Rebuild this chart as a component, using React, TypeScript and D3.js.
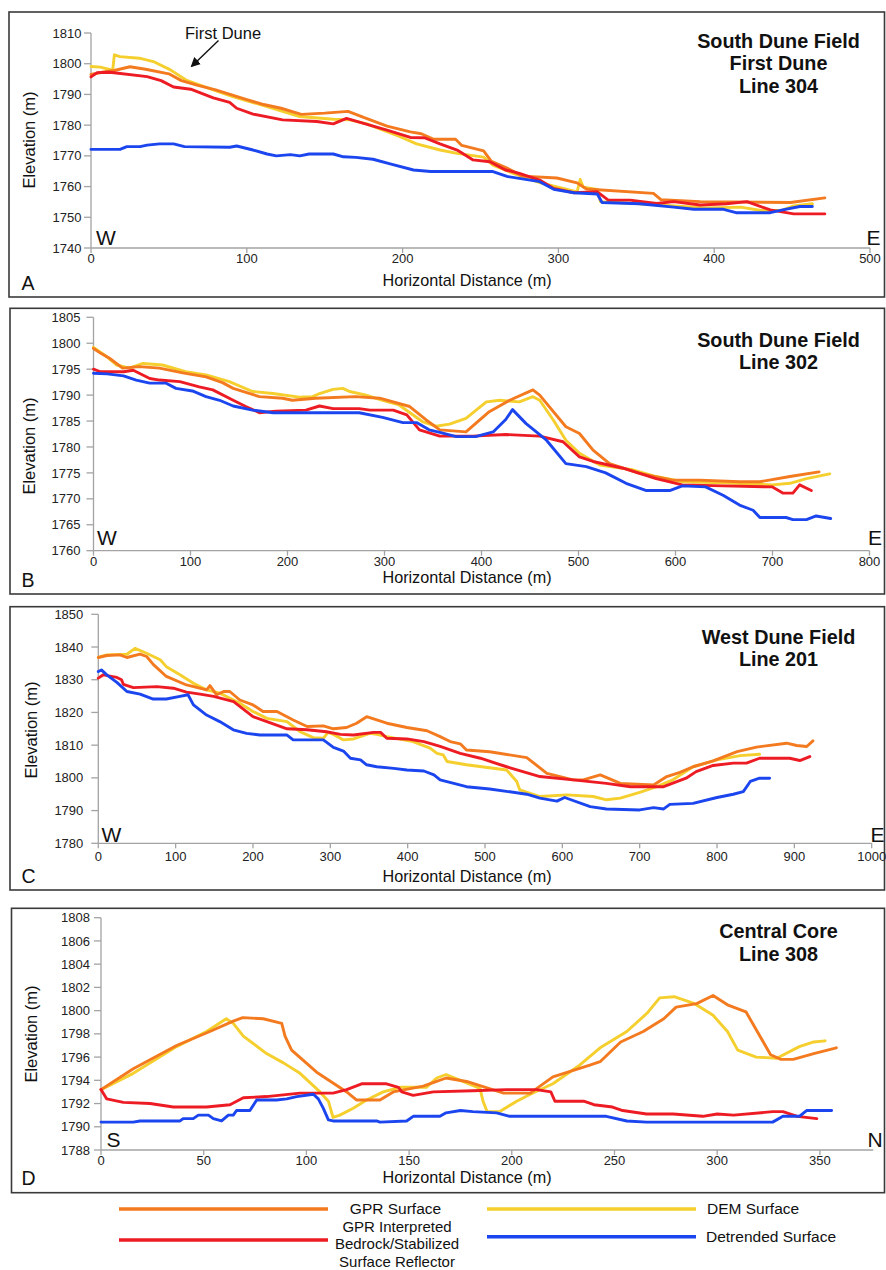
import React from 'react';
import * as d3 from 'd3';

type Pt = [number, number];

// ---------- Series metadata ----------
const seriesKeys = ['dem', 'gpr', 'bedrock', 'detrended'];
const seriesColors: Record<string, string> = {
  gpr: '#F37A1F',
  dem: '#F5CF2D',
  bedrock: '#ED1C24',
  detrended: '#1B45EE',
};

// ---------- Panel A: South Dune Field, First Dune, Line 304 ----------
const line304Gpr: Pt[] = [[0,1796.5],[8,1797.3],[15,1797.8],[25,1799],[35,1798.2],[50,1796.7],[58,1794.5],[68,1793],[80,1791.5],[100,1788.3],[110,1786.8],[122,1785.5],[135,1783.5],[150,1783.9],[165,1784.5],[175,1782.5],[190,1779.7],[205,1777.8],[212,1777.2],[220,1775.4],[234,1775.4],[238,1773.4],[252,1771.6],[257,1768.2],[267,1766],[277,1763.4],[299,1762.8],[312,1761.2],[318,1759.2],[361,1757.8],[366,1755.7],[391,1755.1],[449,1754.8],[471,1756.3]];
const line304Dem: Pt[] = [[0,1799.1],[6,1798.9],[13,1798],[14,1798.2],[15,1802.9],[18.6,1802.3],[31,1801.8],[40,1800.7],[51,1798],[61,1794.7],[78.5,1791.5],[91,1789.3],[113,1786],[134,1782.8],[155.5,1781.9],[166,1781.7],[177,1780.4],[198,1776.3],[209,1773.9],[224,1771.9],[235,1770.8],[252,1769.6],[258,1767],[271,1764.3],[288,1761.3],[303,1759.4],[312,1758.3],[314,1762.3],[316,1759.8],[325,1759.1],[327,1755.1],[352,1754.4],[395,1753],[417,1753.3],[430,1752.2],[443,1752.2],[451,1753.7],[463,1754.4]];
const line304Bedrock: Pt[] = [[0,1795.7],[4,1797.1],[12,1797.2],[36,1795.8],[45,1794.5],[53,1792.4],[64,1791.7],[78.5,1788.9],[89,1787.4],[93.5,1785.5],[104,1783.6],[123,1781.7],[145,1781.2],[155.5,1780.4],[164,1782.2],[175,1780.6],[190,1778.4],[205,1776],[214,1775.9],[224,1773.9],[235,1771.9],[245,1768.7],[256,1768.1],[266,1765.4],[275,1764.3],[288,1762.1],[297,1759.4],[310,1758],[325,1758.3],[332,1755.6],[346,1755.6],[363,1754.5],[374,1755.1],[391,1754],[408,1754.4],[421,1755.1],[436,1752.4],[451,1751.1],[471,1751.1]];
const line304Detrended: Pt[] = [[0,1772.1],[18.6,1772.1],[23,1773],[31.5,1773],[36,1773.5],[44,1773.9],[53,1773.9],[60,1773],[89,1772.8],[93.5,1773.2],[104,1771.9],[113,1770.6],[119,1770],[128,1770.4],[134,1770],[140,1770.6],[155.5,1770.6],[162,1769.7],[170,1769.5],[181,1768.9],[192,1767.4],[207,1765.4],[218,1764.9],[258,1764.9],[267,1763.3],[288,1761.6],[297,1759.1],[310,1758],[325,1757.6],[328,1754.8],[352,1754.4],[374,1753.3],[387,1752.6],[406,1752.6],[414,1751.5],[436,1751.5],[444,1752.4],[455,1753.5],[463,1753.5]];
const line304Title = ['South Dune Field', 'First Dune', 'Line 304'];
const line304XTicks = [0, 100, 200, 300, 400, 500];
const line304YTicks = [1740, 1750, 1760, 1770, 1780, 1790, 1800, 1810];

// ---------- Panel B: South Dune Field, Line 302 ----------
const line302Gpr: Pt[] = [[0,1799],[8,1798],[16.5,1797.1],[30,1795.2],[47,1795.5],[68,1795.2],[92,1794.3],[116,1793.5],[133,1792.4],[144,1791.3],[171,1789.7],[195,1789.4],[205,1789],[229,1789.4],[270,1789.7],[295,1789.4],[326,1787.8],[343,1785.2],[357,1783.3],[384,1782.9],[408,1786.8],[429,1789],[453,1791],[460,1790],[487,1783.9],[501,1782.6],[515,1779.4],[532,1776.8],[563,1774.9],[597,1773.6],[625,1773.6],[666,1773.3],[687,1773.3],[718,1774.3],[748,1775.2]];
const line302Dem: Pt[] = [[0,1799.2],[13.7,1797.4],[24,1795.8],[37,1795.2],[51,1796.1],[71,1795.8],[95,1794.5],[116,1793.9],[140,1792.6],[164,1790.7],[185,1790.3],[212,1789.6],[226,1789.7],[233,1790.3],[247,1791.1],[257,1791.3],[264,1790.7],[281,1790],[298,1789],[315,1788.1],[339,1784.9],[353,1784],[367,1784.4],[384,1785.5],[405,1788.7],[419,1789],[439,1788.7],[453,1789.7],[460,1789],[474,1785.2],[487,1781.3],[501,1778.8],[522,1776.5],[556,1775.6],[580,1774.3],[607,1773.3],[649,1773.1],[700,1772.7],[718,1773],[735,1773.9],[759,1774.8]];
const line302Bedrock: Pt[] = [[0,1795],[7,1794.5],[31,1794.5],[41,1794.8],[58,1793.2],[68,1792.9],[89,1792.6],[109,1791.6],[123,1791],[144,1789],[157,1787.8],[171,1786.6],[188,1786.9],[219,1787.1],[233,1787.9],[247,1787.4],[274,1787.4],[285,1787.1],[309,1787.1],[323,1786.2],[336,1783.3],[357,1782.1],[391,1782.1],[425,1782.4],[460,1782.1],[484,1781],[501,1778.1],[515,1777.2],[546,1775.9],[580,1773.9],[607,1772.7],[649,1772.5],[700,1772.3],[711,1771.1],[721,1771.1],[728,1772.7],[740,1771.6]];
const line302Detrended: Pt[] = [[0,1794.2],[14,1794.1],[31,1793.7],[44,1792.9],[58,1792.3],[75,1792.3],[85,1791.3],[102,1790.8],[116,1789.7],[130,1789],[144,1787.9],[164,1787.1],[185,1786.6],[274,1786.6],[298,1785.7],[319,1784.7],[333,1784.7],[346,1783.3],[357,1782.8],[374,1782],[394,1782],[412,1782.9],[425,1785.3],[432,1787.2],[446,1784.5],[467,1781.3],[487,1776.8],[508,1776.2],[528,1775],[549,1773],[570,1771.6],[594,1771.6],[607,1772.5],[631,1772.3],[649,1770.7],[666,1768.8],[680,1767.8],[687,1766.4],[714,1766.4],[721,1766],[735,1766],[745,1766.7],[760,1766.2]];
const line302Title = ['South Dune Field', 'Line 302'];
const line302XTicks = [0, 100, 200, 300, 400, 500, 600, 700, 800];
const line302YTicks = [1760, 1765, 1770, 1775, 1780, 1785, 1790, 1795, 1800, 1805];

// ---------- Panel C: West Dune Field, Line 201 ----------
const line201Gpr: Pt[] = [[0,1836.8],[11,1837.4],[28,1837.6],[37,1836.8],[54,1837.8],[62.5,1837.1],[71,1834.7],[88,1831],[114,1828.4],[140,1826.9],[144.4,1828.2],[153,1825.4],[162,1826.4],[170,1826.4],[183,1823.8],[200,1822.3],[213,1820.3],[231,1820.3],[252,1817.7],[270,1815.7],[291,1815.9],[304,1815],[321,1815.4],[334,1816.7],[347,1818.7],[360,1817.7],[373,1816.7],[399,1815.4],[425,1814.4],[442,1812.6],[455,1811.1],[468,1810.4],[476,1808.5],[506,1808],[554,1806.2],[580,1801.4],[614,1799.4],[627,1799.4],[649,1800.9],[675,1798.3],[718,1797.8],[735,1800.4],[752,1801.7],[769,1803.4],[795,1805.2],[826,1808],[851,1809.4],[890,1810.6],[903,1809.9],[916,1809.6],[924,1811.3]];
const line201Dem: Pt[] = [[0,1836.8],[11,1837.6],[37,1837.8],[47.5,1839.6],[62.5,1838.1],[80,1836.1],[88,1834],[105.6,1831.5],[123,1828.9],[140,1826.9],[157,1825.9],[183,1822.8],[200,1820.3],[218,1818.2],[244,1817.2],[261,1814.1],[278,1812.3],[291,1812.1],[297,1813.9],[304,1813.3],[317,1811.6],[330,1811.9],[351,1813.6],[360,1813.3],[373,1812.6],[407,1811.1],[429,1809.1],[438,1807.5],[446,1807],[451,1805],[476,1804],[528,1802.4],[541,1798.9],[545,1796.3],[571,1794.3],[606,1794.8],[640,1794.3],[657,1793.3],[675,1793.8],[700,1795.6],[722,1797.3],[743,1799.4],[769,1803.4],[800,1805.5],[830,1806.8],[855,1807.2]];
const line201Bedrock: Pt[] = [[0,1830.5],[6.5,1831.5],[24,1830.7],[30,1830],[32.4,1828.6],[45.4,1827.6],[75.6,1827.9],[97,1827.4],[114,1826.2],[131.6,1825.6],[149,1824.9],[175,1823.3],[200,1818.7],[218,1817.2],[244,1815],[270,1814.7],[295,1814.1],[313,1813.3],[330,1813.1],[356,1813.9],[365,1813.9],[373,1812.1],[399,1811.9],[421,1811.1],[442,1809.6],[468,1807.5],[494,1806],[528,1803.4],[571,1800.4],[614,1799.4],[657,1798.3],[688,1797.3],[731,1797.3],[760,1799.9],[773,1801.9],[795,1803.8],[821,1804.5],[838,1804.5],[855,1806],[894,1806],[907,1805.3],[920,1806.5]];
const line201Detrended: Pt[] = [[0,1832.5],[4,1833],[11,1831.5],[24,1829.2],[37,1826.4],[54,1825.6],[71,1824.1],[88,1824.1],[105.6,1824.9],[116,1825.4],[123,1822.3],[140,1819.2],[157,1817.2],[174.5,1814.7],[191.7,1813.6],[209,1813.1],[244,1813.1],[252,1811.6],[291,1811.6],[304,1809.3],[317,1808.2],[326,1806],[339,1805.5],[347,1804],[360,1803.4],[382,1802.9],[399,1802.4],[421,1802.1],[434,1800.9],[442,1799.4],[476,1797.3],[506,1796.6],[554,1795],[571,1793.8],[593,1792.9],[603,1794],[636,1791.2],[657,1790.5],[700,1790.2],[718,1790.9],[731,1790.5],[739,1791.9],[769,1792.2],[800,1794],[821,1795],[834,1795.8],[843,1798.9],[855,1799.9],[868,1799.9]];
const line201Title = ['West Dune Field', 'Line 201'];
const line201XTicks = [0, 100, 200, 300, 400, 500, 600, 700, 800, 900, 1000];
const line201YTicks = [1780, 1790, 1800, 1810, 1820, 1830, 1840, 1850];

// ---------- Panel D: Central Core, Line 308 ----------
const line308Gpr: Pt[] = [[0,1793.2],[15.7,1795],[36.8,1797],[53,1798.2],[64.4,1799.1],[69,1799.4],[79,1799.3],[88,1798.9],[89.6,1797.8],[92.8,1796.6],[105,1794.7],[119.6,1793],[124.5,1792.3],[135.8,1792.3],[142.3,1793],[156.9,1793.5],[163.4,1793.9],[168,1794.2],[178,1793.9],[196,1792.9],[209,1792.9],[220,1794.3],[238,1795.3],[243,1795.6],[253,1797.3],[264,1798.2],[274,1799.3],[280,1800.3],[290,1800.6],[298,1801.3],[305,1800.5],[314,1799.9],[326,1796.2],[331,1795.8],[337,1795.8],[347,1796.3],[358,1796.8]];
const line308Dem: Pt[] = [[0,1793.2],[15.7,1794.6],[36.8,1796.9],[51.4,1798.2],[61,1799.3],[64.4,1798.9],[69.3,1797.8],[80.6,1796.3],[88.8,1795.5],[96.9,1794.6],[106.6,1793],[110.7,1792.2],[113,1790.8],[116.3,1791],[122.8,1791.6],[129.3,1792.3],[137.4,1793],[145.5,1793.4],[158.5,1793.4],[163.4,1794.2],[168,1794.5],[175,1794],[184.5,1793.3],[186,1792.2],[188,1791.3],[194,1791.3],[202.4,1792.2],[209,1792.8],[220,1793.7],[233,1795.3],[243,1796.8],[256,1798.2],[266,1799.8],[272,1801.1],[279,1801.2],[289,1800.6],[298,1799.6],[305,1798.2],[310,1796.6],[319,1796],[329,1795.9],[340,1796.9],[347,1797.3],[352.5,1797.4]];
const line308Bedrock: Pt[] = [[0,1793.2],[2.8,1792.4],[10.9,1792.1],[23.9,1792],[35.2,1791.7],[51.4,1791.7],[62.8,1791.9],[69.3,1792.5],[80.6,1792.6],[96.9,1792.9],[113,1792.9],[119.6,1793.2],[126.9,1793.7],[139,1793.7],[144.8,1793.4],[146.4,1793],[152,1792.7],[161.8,1793],[181,1793.1],[197.5,1793.2],[212,1793.2],[219,1793],[221,1792.2],[235,1792.2],[240,1791.9],[249,1791.7],[254,1791.4],[265.6,1791.1],[278.6,1791.1],[293,1790.9],[300,1791.1],[308,1791],[327,1791.3],[332,1791.3],[339,1790.9],[348.5,1790.7]];
const line308Detrended: Pt[] = [[0,1790.4],[15.7,1790.4],[19,1790.5],[38.5,1790.5],[40,1790.7],[44.9,1790.7],[47.4,1791],[52.3,1791],[54.7,1790.7],[58.7,1790.5],[62,1791],[64.4,1791],[66,1791.4],[72.5,1791.4],[75.8,1792.3],[85.5,1792.3],[90.4,1792.4],[95.3,1792.6],[103.4,1792.8],[105.8,1792.4],[108.2,1791.6],[110.7,1790.6],[113,1790.5],[134.2,1790.5],[135.8,1790.4],[148.8,1790.5],[152,1790.9],[165,1790.9],[168,1791.2],[175,1791.4],[181,1791.3],[192.6,1791.2],[199,1790.9],[246,1790.9],[256,1790.5],[265.6,1790.4],[327,1790.4],[332,1790.9],[340,1790.9],[343.5,1791.4],[355.7,1791.4]];
const line308Title = ['Central Core', 'Line 308'];
const line308XTicks = [0, 50, 100, 150, 200, 250, 300, 350];
const line308YTicks = [1788, 1790, 1792, 1794, 1796, 1798, 1800, 1802, 1804, 1806, 1808];

// ---------- Legend ----------
const legendGpr = ['GPR Surface'];
const legendDem = ['DEM Surface'];
const legendBedrock = ['GPR Interpreted', 'Bedrock/Stabilized', 'Surface Reflector'];
const legendDetrended = ['Detrended Surface'];

const FONT = "'Liberation Sans', Arial, Helvetica, sans-serif";
const AXIS_GREY = '#a3a3a3';

interface PanelLayout {
  letter: string;
  box: [number, number, number, number];
  xDomain: [number, number];
  xRange: [number, number];
  yDomain: [number, number];
  yRange: [number, number];
  xTicks: number[];
  yTicks: number[];
  xTickOffset: number;
  yLabelGap: number;
  xTitleY: number;
  yTitleX: number;
  yTitleY: number;
  letterY: number;
  dirs: [string, number, string, number, number];
  title: string[];
  titleY: number[];
  series: Record<string, Pt[]>;
}

const panels: PanelLayout[] = [
  {
    letter: 'A', box: [9, 12, 875.5, 285],
    xDomain: [0, 500], xRange: [91, 870], yDomain: [1740, 1810], yRange: [248, 33],
    xTicks: line304XTicks, yTicks: line304YTicks, xTickOffset: 15.3, yLabelGap: 9.5,
    xTitleY: 286, yTitleX: 35, yTitleY: 140, letterY: 290,
    dirs: ['W', 96, 'E', 866.5, 245],
    title: line304Title, titleY: [47.7, 70.2, 92.7],
    series: { gpr: line304Gpr, dem: line304Dem, bedrock: line304Bedrock, detrended: line304Detrended },
  },
  {
    letter: 'B', box: [10, 308.3, 874.5, 285.7],
    xDomain: [0, 800], xRange: [93.5, 869.5], yDomain: [1760, 1805], yRange: [550.7, 317.3],
    xTicks: line302XTicks, yTicks: line302YTicks, xTickOffset: 15, yLabelGap: 13,
    xTitleY: 583, yTitleX: 35, yTitleY: 446, letterY: 586.7,
    dirs: ['W', 97, 'E', 868, 545],
    title: line302Title, titleY: [346.7, 369.3],
    series: { gpr: line302Gpr, dem: line302Dem, bedrock: line302Bedrock, detrended: line302Detrended },
  },
  {
    letter: 'C', box: [10, 606.7, 874.5, 283.3],
    xDomain: [0, 1000], xRange: [98.3, 871.7], yDomain: [1780, 1850], yRange: [843.3, 614.3],
    xTicks: line201XTicks, yTicks: line201YTicks, xTickOffset: 17.5, yLabelGap: 15,
    xTitleY: 882, yTitleX: 37, yTitleY: 730, letterY: 883,
    dirs: ['W', 101.5, 'E', 870.5, 841.7],
    title: line201Title, titleY: [644.3, 666],
    series: { gpr: line201Gpr, dem: line201Dem, bedrock: line201Bedrock, detrended: line201Detrended },
  },
  {
    letter: 'D', box: [11.5, 908.3, 873, 284.4],
    xDomain: [0, 376], xRange: [101, 873.3], yDomain: [1788, 1808], yRange: [1150, 917.7],
    xTicks: line308XTicks, yTicks: line308YTicks, xTickOffset: 14.5, yLabelGap: 11,
    xTitleY: 1183, yTitleX: 37, yTitleY: 1034, letterY: 1185,
    dirs: ['S', 106.5, 'N', 867.5, 1146.7],
    title: line308Title, titleY: [937.7, 960.7],
    series: { gpr: line308Gpr, dem: line308Dem, bedrock: line308Bedrock, detrended: line308Detrended },
  },
];

function Panel({ p }: { p: PanelLayout }) {
  const x = d3.scaleLinear().domain(p.xDomain).range(p.xRange);
  const y = d3.scaleLinear().domain(p.yDomain).range(p.yRange);
  const line = d3.line<Pt>().x((d) => x(d[0])).y((d) => y(d[1]));
  const [bx, by, bw, bh] = p.box;
  const yMax = p.yTicks[p.yTicks.length - 1];
  return (
    <g>
      <rect x={bx} y={by} width={bw} height={bh} fill="none" stroke="#3a3a3a" strokeWidth={1.6} />
      {/* axes */}
      <line x1={x(0)} x2={x(0)} y1={y(p.yDomain[0])} y2={y(yMax)} stroke={AXIS_GREY} strokeWidth={1.3} />
      <line x1={x(0)} x2={x(p.xDomain[1])} y1={y(p.yDomain[0])} y2={y(p.yDomain[0])} stroke={AXIS_GREY} strokeWidth={1.3} />
      {p.yTicks.map((t) => (
        <g key={'y' + t}>
          <line x1={x(0) - 7} x2={x(0)} y1={y(t)} y2={y(t)} stroke={AXIS_GREY} strokeWidth={1.3} />
          <text x={x(0) - p.yLabelGap} y={y(t) + 4.6} textAnchor="end" fontSize={13} fill="#222" fontFamily={FONT}>{t}</text>
        </g>
      ))}
      {p.xTicks.map((t) => (
        <g key={'x' + t}>
          <line x1={x(t)} x2={x(t)} y1={y(p.yDomain[0])} y2={y(p.yDomain[0]) + 5} stroke={AXIS_GREY} strokeWidth={1.3} />
          <text x={x(t)} y={y(p.yDomain[0]) + p.xTickOffset} textAnchor="middle" fontSize={13} fill="#222" fontFamily={FONT}>{t}</text>
        </g>
      ))}
      {/* series */}
      {seriesKeys.map((k) => (
        <path key={k} d={line(p.series[k]) || ''} fill="none" stroke={seriesColors[k]} strokeWidth={2.9} strokeLinejoin="round" strokeLinecap="round" />
      ))}
      {/* labels */}
      <text x={467} y={p.xTitleY} textAnchor="middle" fontSize={16.2} fill="#111" fontFamily={FONT}>Horizontal Distance (m)</text>
      <text transform={`translate(${p.yTitleX},${p.yTitleY}) rotate(-90)`} textAnchor="middle" fontSize={16.5} fill="#111" fontFamily={FONT}>Elevation (m)</text>
      <text x={21.5} y={p.letterY} fontSize={19.5} fill="#111" fontFamily={FONT}>{p.letter}</text>
      <text x={p.dirs[1]} y={p.dirs[4]} fontSize={21} fill="#111" fontFamily={FONT}>{p.dirs[0]}</text>
      <text x={p.dirs[3]} y={p.dirs[4]} fontSize={21} fill="#111" fontFamily={FONT}>{p.dirs[2]}</text>
      {p.title.map((t, i) => (
        <text key={t} x={778.5} y={p.titleY[i]} textAnchor="middle" fontSize={19.8} fontWeight="bold" fill="#111" fontFamily={FONT}>{t}</text>
      ))}
    </g>
  );
}

export default function App() {
  return (
    <svg width={886} height={1270} viewBox="0 0 886 1270" style={{ position: 'absolute', left: 0, top: 0, background: '#fff' }}>
      <defs>
        <marker id="arrowHead" viewBox="0 0 10 10" refX="8" refY="5" markerWidth="7" markerHeight="7" orient="auto-start-reverse">
          <path d="M0,0 L10,5 L0,10 z" fill="#111" />
        </marker>
      </defs>
      <rect x={0} y={0} width={886} height={1270} fill="#fff" />
      {panels.map((p) => <Panel key={p.letter} p={p} />)}
      {/* First Dune annotation */}
      <text x={185} y={39} fontSize={16.5} fill="#111" fontFamily={FONT}>First Dune</text>
      <line x1={218.5} y1={40.5} x2={192} y2={66} stroke="#111" strokeWidth={1.4} markerEnd="url(#arrowHead)" />
      {/* Legend */}
      <line x1={119} x2={328} y1={1209} y2={1209} stroke={seriesColors.gpr} strokeWidth={3.4} />
      <line x1={487} x2={696} y1={1209} y2={1209} stroke={seriesColors.dem} strokeWidth={3.4} />
      <line x1={119} x2={328} y1={1240} y2={1240} stroke={seriesColors.bedrock} strokeWidth={3.4} />
      <line x1={487} x2={696} y1={1236.7} y2={1236.7} stroke={seriesColors.detrended} strokeWidth={3.4} />
      {legendGpr.map((t) => (
        <text key={t} x={395.5} y={1214.3} textAnchor="middle" fontSize={15.5} fill="#111" fontFamily={FONT}>{t}</text>
      ))}
      {legendBedrock.map((t, i) => (
        <text key={t} x={397} y={1231.5 + i * 17.6} textAnchor="middle" fontSize={15} fill="#111" fontFamily={FONT}>{t}</text>
      ))}
      {legendDem.map((t) => (
        <text key={t} x={707} y={1214} fontSize={15.5} fill="#111" fontFamily={FONT}>{t}</text>
      ))}
      {legendDetrended.map((t) => (
        <text key={t} x={706} y={1241.7} fontSize={15.5} fill="#111" fontFamily={FONT}>{t}</text>
      ))}
    </svg>
  );
}
